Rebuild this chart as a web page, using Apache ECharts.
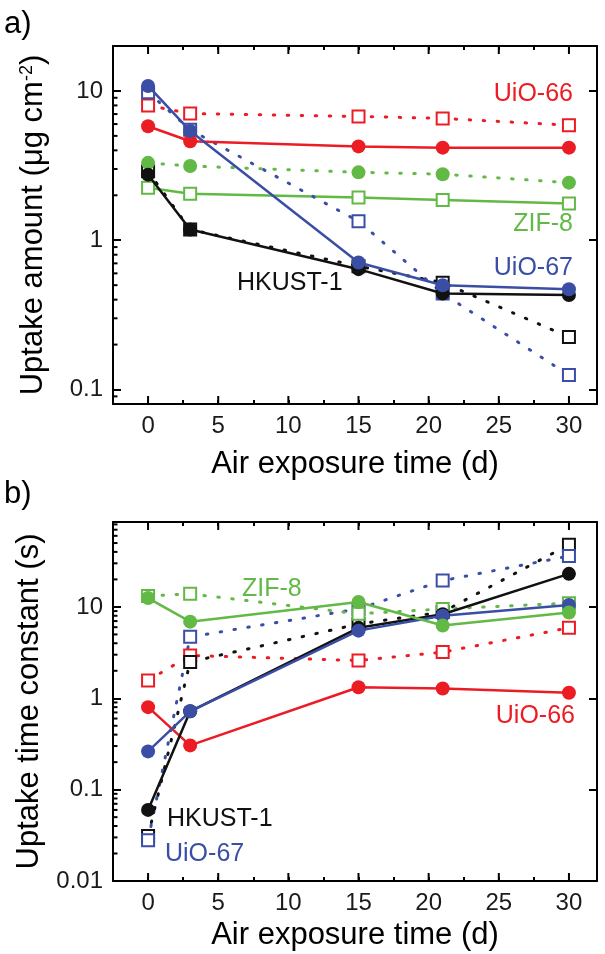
<!DOCTYPE html>
<html><head><meta charset="utf-8">
<script src="https://cdn.jsdelivr.net/npm/echarts@6/dist/echarts.min.js"></script>
<style>html,body{margin:0;padding:0;background:#fff}#c{width:605px;height:954px}</style>
</head><body><div id="c"></div>
<script>
// ---------- data ----------
const days = [0, 3, 15, 21, 30];
const xTickLabels = [0, 5, 10, 15, 20, 25, 30];
const yTickLabelsA = [0.1, 1, 10];
const yTickLabelsB = [0.01, 0.1, 1, 10];

// Panel a: uptake amount (ug cm-2)
const aHKUSTcircle = [2.75, 1.18, 0.64, 0.44, 0.43];
const aHKUSTsquare = [2.9, 1.18, 0.67, 0.52, 0.225];
const aUiO66circle = [5.8, 4.6, 4.25, 4.17, 4.17];
const aUiO66square = [8.0, 7.05, 6.75, 6.55, 5.9];
const aUiO67circle = [10.8, 5.4, 0.71, 0.50, 0.47];
const aUiO67square = [9.8, 5.5, 1.34, 0.44, 0.125];
const aZIF8circle  = [3.3, 3.14, 2.85, 2.77, 2.43];
const aZIF8square  = [2.25, 2.05, 1.93, 1.86, 1.76];

// Panel b: uptake time constant (s)
const bHKUSTcircle = [0.06, 0.72, 5.9, 8.3, 23];
const bHKUSTsquare = [0.031, 2.5, 6.5, 8.8, 48];
const bUiO66circle = [0.80, 0.305, 1.32, 1.28, 1.15];
const bUiO66square = [1.57, 2.94, 2.59, 3.2, 5.9];
const bUiO67circle = [0.262, 0.72, 5.5, 8.0, 10.5];
const bUiO67square = [0.028, 4.7, 9.5, 19.4, 36];
const bZIF8circle  = [12.5, 6.9, 11.3, 6.25, 8.7];
const bZIF8square  = [13.2, 13.9, 8.4, 9.5, 11];

// ---------- styles ----------
const RED = '#ec1c24', GREEN = '#62b946', BLUE = '#3b4ea6', BLACK = '#111111';
const FONT = 'Liberation Sans, Arial, Helvetica, sans-serif';
const X_MIN = -2.5, X_MAX = 32;
const A_MIN = 0.08, A_MAX = 20;
const B_MIN = 0.01, B_MAX = 85;

const chart = echarts.init(document.getElementById('c'), null, {renderer: 'canvas'});

function isPow10(v) {
  const l = Math.log10(v);
  return Math.abs(l - Math.round(l)) < 1e-6;
}
function fmtLog(list) {
  return function (v) {
    if (!isPow10(v)) return '';
    const r = Number(v.toPrecision(3));
    return list.indexOf(r) >= 0 ? String(r) : '';
  };
}
function fmtX(v) { return xTickLabels.indexOf(v) >= 0 ? String(v) : ''; }

const axisLine = {show: true, onZero: false, lineStyle: {color: '#000', width: 2}};

function xAx(grid, pos, labels, name, nameGap) {
  return {
    type: 'value', gridIndex: grid, position: pos, min: X_MIN, max: X_MAX, interval: 2.5,
    axisLine: axisLine,
    axisTick: {show: true, inside: true, length: 4, lineStyle: {color: '#000', width: 2}},
    axisLabel: {show: labels, formatter: fmtX, fontSize: 24, fontFamily: FONT, color: '#1a1a1a', margin: 10},
    splitLine: {show: false},
    name: name || '', nameLocation: 'middle', nameGap: nameGap || 0,
    nameTextStyle: {fontSize: 31, fontFamily: FONT, color: '#000', lineHeight: 31}
  };
}
function yAx(grid, pos, labels, mn, mx, list, name, nameGap) {
  return {
    type: 'log', logBase: 10, gridIndex: grid, position: pos, min: mn, max: mx,
    axisLine: axisLine,
    axisTick: {show: true, inside: true, length: 8, lineStyle: {color: '#000', width: 2}},
    axisLabel: {show: labels, formatter: fmtLog(list), fontSize: 24, fontFamily: FONT, color: '#1a1a1a', margin: 10},
    splitLine: {show: false},
    name: name || '', nameLocation: 'middle', nameGap: nameGap || 0,
    nameTextStyle: {fontSize: 31, fontFamily: FONT, color: '#000', lineHeight: 31,
      rich: {sup: {fontSize: 18, fontFamily: FONT, color: '#000', padding: [0, 0, 12, 0]}}}
  };
}

function mk(vals, color, filled, dotted, xi, yi) {
  return {
    type: 'line', xAxisIndex: xi, yAxisIndex: yi,
    data: days.map((d, i) => [d, vals[i]]),
    symbol: filled ? 'circle' : 'rect', symbolSize: filled ? 14 : 12, showSymbol: true,
    lineStyle: {color: color, width: dotted ? 3 : 2.5, type: dotted ? [1.5, 12.5] : 'solid', cap: dotted ? 'round' : 'butt'},
    itemStyle: {color: filled ? color : '#ffffff', borderColor: color, borderWidth: filled ? 0 : 2},
    z: filled ? 3 : 2, silent: true, emphasis: {disabled: true}, animation: false
  };
}

const option = {
  animation: false,
  backgroundColor: '#ffffff',
  grid: [
    {left: 113, right: 8, top: 46, height: 358, show: false},
    {left: 113, right: 8, top: 522, height: 359, show: false}
  ],
  xAxis: [
    xAx(0, 'bottom', true, 'Air exposure time (d)', 45),
    xAx(0, 'top', false),
    xAx(1, 'bottom', true, 'Air exposure time (d)', 39),
    xAx(1, 'top', false)
  ],
  yAxis: [
    yAx(0, 'left', true, A_MIN, A_MAX, yTickLabelsA, 'Uptake amount (\u03bcg cm{sup|-2})', 64),
    yAx(0, 'right', false, A_MIN, A_MAX, yTickLabelsA),
    yAx(1, 'left', true, B_MIN, B_MAX, yTickLabelsB, 'Uptake time constant (s)', 64),
    yAx(1, 'right', false, B_MIN, B_MAX, yTickLabelsB)
  ],
  series: [
    mk(aZIF8square, GREEN, false, false, 0, 0),
    mk(aZIF8circle, GREEN, true, true, 0, 0),
    mk(aUiO66square, RED, false, true, 0, 0),
    mk(aUiO66circle, RED, true, false, 0, 0),
    mk(aHKUSTsquare, BLACK, false, true, 0, 0),
    mk(aHKUSTcircle, BLACK, true, false, 0, 0),
    mk(aUiO67square, BLUE, false, true, 0, 0),
    mk(aUiO67circle, BLUE, true, false, 0, 0),

    mk(bUiO66square, RED, false, true, 2, 2),
    mk(bUiO66circle, RED, true, false, 2, 2),
    mk(bHKUSTsquare, BLACK, false, true, 2, 2),
    mk(bHKUSTcircle, BLACK, true, false, 2, 2),
    mk(bUiO67square, BLUE, false, true, 2, 2),
    mk(bUiO67circle, BLUE, true, false, 2, 2),
    mk(bZIF8square, GREEN, false, true, 2, 2),
    mk(bZIF8circle, GREEN, true, false, 2, 2)
  ]
};
chart.setOption(option);

// ---------- extra ticks (major x ticks, log minor ticks) via the chart's own scales ----------
const g = [];
function tickLine(x1, y1, x2, y2) {
  g.push({type: 'line', silent: true, z: 50,
    shape: {x1: x1, y1: y1, x2: x2, y2: y2}, style: {stroke: '#000', lineWidth: 2}});
}
function addTicks(xi, yi, ymin, ymax) {
  const px = (x, y) => chart.convertToPixel({xAxisIndex: xi, yAxisIndex: yi}, [x, y]);
  const bl = px(X_MIN, ymin), tr = px(X_MAX, ymax);
  const left = bl[0], bottom = bl[1], top = tr[1];
  xTickLabels.forEach(v => {
    const p = px(v, ymin);
    tickLine(p[0], bottom, p[0], bottom - 8);
    tickLine(p[0], top, p[0], top + 8);
  });
  const lo = Math.floor(Math.log10(ymin)), hi = Math.ceil(Math.log10(ymax));
  for (let n = lo; n <= hi; n++) {
    for (let k = 2; k <= 9; k++) {
      const v = k * Math.pow(10, n);
      if (v <= ymin || v >= ymax) continue;
      const p = px(X_MIN, v);
      tickLine(left, p[1], left + 4.5, p[1]);
    }
  }
}
addTicks(0, 0, A_MIN, A_MAX);
addTicks(2, 2, B_MIN, B_MAX);

function label(text, x, y, color, align, size) {
  g.push({type: 'text', silent: true, z: 60, x: x, y: y,
    style: {text: text, fill: color, font: (size || 25) + 'px ' + FONT, textAlign: align || 'left', textVerticalAlign: 'middle'}});
}
label('a)', 4, 24, '#000', 'left', 31);
label('b)', 4, 494, '#000', 'left', 31);
label('UiO-66', 573, 94, RED, 'right');
label('ZIF-8', 573, 224, GREEN, 'right');
label('UiO-67', 573, 268, BLUE, 'right');
label('HKUST-1', 237, 283, BLACK, 'left');
label('ZIF-8', 242, 589, GREEN, 'left');
label('UiO-66', 575, 716, RED, 'right');
label('HKUST-1', 167, 819, BLACK, 'left');
label('UiO-67', 165, 854, BLUE, 'left');

chart.setOption({graphic: g});
</script>
</body></html>
